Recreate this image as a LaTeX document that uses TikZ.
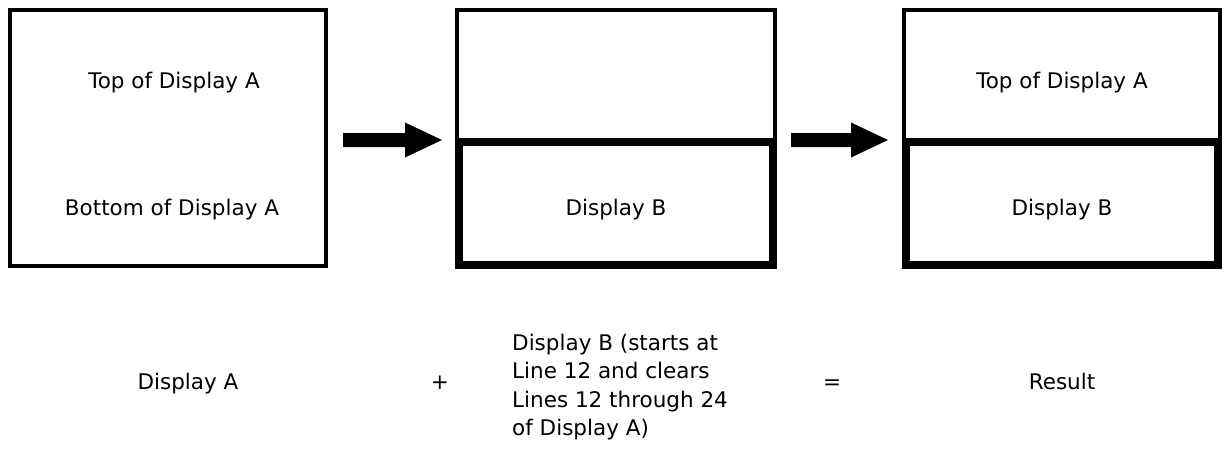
\documentclass[tikz,border=0pt]{standalone}
\usepackage{fontspec}
\setmainfont{DejaVu Sans}
\usetikzlibrary{calc}
\begin{document}
\begin{tikzpicture}[x=1pt,y=-1pt,
  thinbox/.style={draw=black, line width=4pt, inner sep=0pt, fill=white},
  thickbox/.style={draw=black, line width=8pt, inner sep=0pt},
  lbl/.style={font=\fontsize{21.5}{28.5}\selectfont, inner sep=0pt, text=black},
  blockarrow/.style={fill=black}]
\useasboundingbox (0,0) rectangle (1225,452);
\fill[white] (0,0) rectangle (1225,452);
% Display A
\node[thinbox, minimum width=316pt, minimum height=256pt] (A) at (168,138) {};
% Display B
\node[thinbox, minimum width=318pt, minimum height=132pt] (Bt) at (616,76) {};
\node[thickbox, minimum width=314pt, minimum height=123pt] (Bb) at (616,203.5) {};
% Result
\node[thinbox, minimum width=316pt, minimum height=132pt] (Ct) at (1062,76) {};
\node[thickbox, minimum width=312pt, minimum height=123pt] (Cb) at (1062,203.5) {};
% texts in boxes
\node[lbl, anchor=base] (Atop) at (174,88) {Top of Display A};
\node[lbl, anchor=base] (Abot) at (172,215) {Bottom of Display A};
\node[lbl, anchor=base] (Btxt) at (616,215) {Display B};
\node[lbl, anchor=base] (Ctop) at (1062,88) {Top of Display A};
\node[lbl, anchor=base] (Cbot) at (1062,215) {Display B};
% block arrows
\coordinate (t1) at ($(A.east)+(15,2)$);
\coordinate (h1) at ($(Bt.west |- t1)+(-13,0)$);
\coordinate (t2) at ($(Bt.east |- t1)+(14,0)$);
\coordinate (h2) at ($(Ct.west |- t1)+(-14,0)$);
\fill[blockarrow] ($(t1)+(0,-7)$) -- ($(h1)+(-37,-7)$) -- ($(h1)+(-37,-17.5)$) -- (h1)
  -- ($(h1)+(-37,17.5)$) -- ($(h1)+(-37,7)$) -- ($(t1)+(0,7)$) -- cycle;
\fill[blockarrow] ($(t2)+(0,-7)$) -- ($(h2)+(-37,-7)$) -- ($(h2)+(-37,-17.5)$) -- (h2)
  -- ($(h2)+(-37,17.5)$) -- ($(h2)+(-37,7)$) -- ($(t2)+(0,7)$) -- cycle;
% bottom labels
\node[lbl, anchor=base] (la) at (188,389) {Display A};
\node[lbl, anchor=base] (plus) at (440,389) {+};
\node[lbl, anchor=west, align=left] (lb) at (512,387) {Display B (starts at\\Line 12 and clears\\Lines 12 through 24\\of Display A)};
\node[lbl, anchor=base] (eq) at (832,389) {=};
\node[lbl, anchor=base] (lr) at (1062,389) {Result};
\end{tikzpicture}
\end{document}
